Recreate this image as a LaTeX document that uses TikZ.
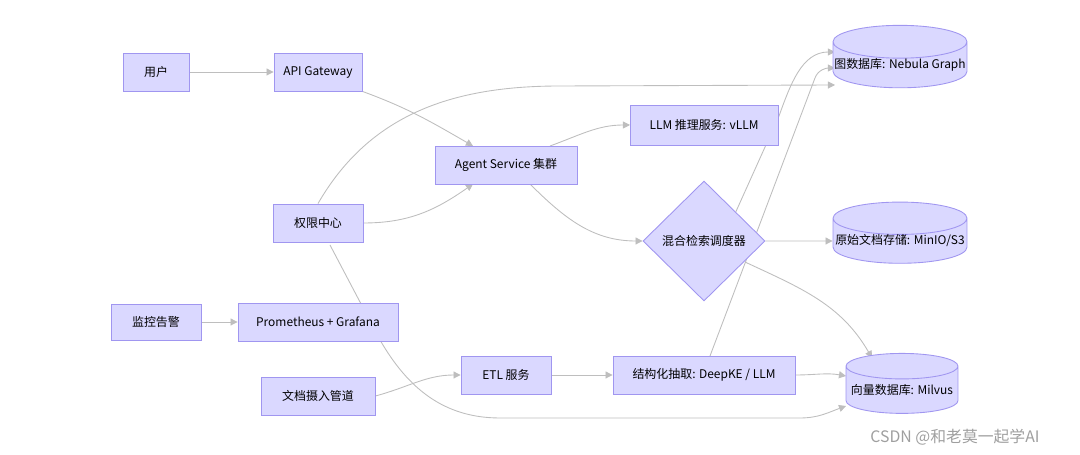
\documentclass[tikz,border=0pt]{standalone}
\usepackage{fontspec}
\setmainfont{Noto Sans CJK SC}
\usetikzlibrary{shapes.geometric,arrows.meta,backgrounds}
\definecolor{boxfill}{RGB}{218,216,255}
\definecolor{boxline}{RGB}{160,150,240}
\definecolor{edge}{RGB}{190,190,190}
\begin{document}
\begin{tikzpicture}[x=0.02cm,y=-0.02cm,
  font=\fontsize{6.8}{8}\selectfont,
  box/.style = {draw=boxline, fill=boxfill, line width=0.5pt, minimum height=0.76cm, inner sep=0pt},
  db/.style = {draw=boxline, fill=boxfill, line width=0.5pt, cylinder, shape border rotate=90, aspect=0.25, minimum height=1.2cm, inner sep=0pt},
  dec/.style = {draw=boxline, fill=boxfill, line width=0.5pt, diamond, minimum width=2.44cm, minimum height=2.4cm, inner sep=0pt},
  link/.style = {draw=edge, line width=0.5pt, -{Triangle[length=4pt,width=4pt]}}]
\useasboundingbox (0,0) rectangle (1080,455);
\node[box, minimum width=1.32cm] (user) at (156,72) {用户};
\node[box, minimum width=1.76cm] (gw) at (318,72) {API Gateway};
\node[box, minimum width=1.8cm] (auth) at (318,223) {权限中心};
\node[box, minimum width=2.84cm] (agent) at (506,165) {Agent Service 集群};
\node[box, minimum width=2.96cm, minimum height=0.8cm] (llm) at (704,125) {LLM 推理服务: vLLM};
\node[dec] (hybrid) at (704,241) {混合检索调度器};
\node[db, minimum width=2.68cm] (graphdb) at (900,65) {图数据库: Nebula Graph};
\node[db, minimum width=2.68cm] (raw) at (900,241) {原始文档存储: MinIO/S3};
\node[db, minimum width=2.24cm] (vecdb) at (902,390) {向量数据库: Milvus};
\node[box, minimum width=1.8cm, minimum height=0.72cm] (alarm) at (156,322) {监控告警};
\node[box, minimum width=3.2cm] (prom) at (318,322) {Prometheus + Grafana};
\node[box, minimum width=2.28cm] (ingest) at (318,396) {文档摄入管道};
\node[box, minimum width=1.8cm] (etl) at (506,375) {ETL 服务};
\node[box, minimum width=3.64cm] (extract) at (704,375) {结构化抽取: DeepKE / LLM};
\node[text=gray!75, font=\fontsize{9}{10}\selectfont] (mark) at (955,437) {CSDN @和老莫一起学AI};
% connectors, behind the nodes
\begin{scope}[on background layer]
\draw[link] (user) -- (gw);
\draw[link] (gw.south east) to[out=-20,in=150] (473,146);
\draw[link] (auth.east) to[out=0,in=-145] (473,184);
\draw[link] (auth.north) to[out=60,in=180] (560,86) -- (835,85);
\draw[link] (550,146) to[out=20,in=180] (630,125);
\draw[link] (530,184) to[out=-45,in=180] (hybrid.west);
\draw[link] (hybrid.east) -- (raw.west);
\draw[link] (729,227) -- (779,116) to[out=70,in=180] (835,52);
\draw[link] (710,356) -- (815,78) to[out=70,in=180] (835,68);
\draw[link] (745,262) to[out=-25,in=120] (872,358);
\draw[link] (alarm) -- (prom);
\draw[link] (ingest.east) to[out=15,in=180] (etl.west);
\draw[link] (etl) -- (extract);
\draw[link] (extract.east) to[out=0,in=170] (846,376);
\draw[link] (330,245) -- (380,340) to[out=-60,in=180] (500,418) -- (800,418) to[out=0,in=-160] (846,406);
\end{scope}
\end{tikzpicture}
\end{document}
